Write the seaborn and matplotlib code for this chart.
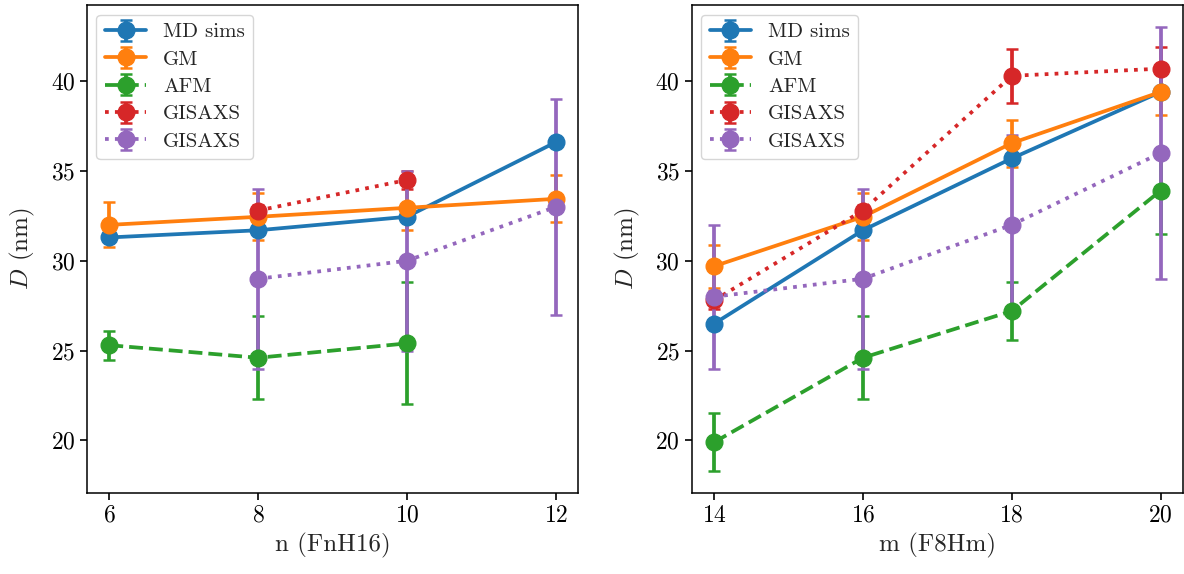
import numpy as np
import seaborn as sns
import matplotlib
matplotlib.use("Agg")
import matplotlib.pyplot as plt

# left panel: FnH16, n = 6..12
n = [6, 8, 10, 12]
md_n = [31.3, 31.7, 32.45, 36.6]
md_n_err = [0.2, 0.2, 0.2, 0.2]
gm_n = [32.0, 32.45, 32.95, 33.45]
gm_n_err = [1.25, 1.3, 1.25, 1.3]
afm_n = [25.3, 24.6, 25.4, np.nan]
afm_n_err = [0.8, 2.3, 3.4, np.nan]
gis1_n = [np.nan, 32.8, 34.5, np.nan]
gis1_n_err = [np.nan, 0.3, 0.5, np.nan]
gis2_n = [np.nan, 29.0, 30.0, 33.0]
gis2_n_err = [np.nan, 5.0, 5.0, 6.0]

# right panel: F8Hm, m = 14..20
m = [14, 16, 18, 20]
md_m = [26.5, 31.7, 35.7, 39.4]
md_m_err = [0.2, 0.2, 0.2, 0.2]
gm_m = [29.7, 32.45, 36.55, 39.4]
gm_m_err = [1.2, 1.3, 1.3, 1.3]
afm_m = [19.9, 24.6, 27.2, 33.9]
afm_m_err = [1.6, 2.3, 1.6, 2.4]
gis1_m = [27.8, 32.8, 40.3, 40.7]
gis1_m_err = [0.5, 0.3, 1.5, 1.2]
gis2_m = [28.0, 29.0, 32.0, 36.0]
gis2_m_err = [4.0, 5.0, 5.0, 7.0]

labels = ['MD sims', 'GM', 'AFM', 'GISAXS', 'GISAXS']
styles = ['-', '-', '--', ':', ':']

sns.set_theme(style="ticks", palette="tab10", rc={
    "axes.edgecolor": "black", "axes.linewidth": 1.1,
    "xtick.color": "black", "ytick.color": "black",
    "xtick.major.size": 5, "ytick.major.size": 5,
    "xtick.major.width": 1.2, "ytick.major.width": 1.2,
})
plt.rcParams['font.family'] = ['cmr10', 'DejaVu Serif']
plt.rcParams['mathtext.fontset'] = 'cm'
plt.rcParams['axes.formatter.use_mathtext'] = True
plt.rcParams['axes.unicode_minus'] = False

colors = sns.color_palette("tab10")

fig, (ax1, ax2) = plt.subplots(1, 2, figsize=(11.84, 5.74), dpi=100, sharey=True)
fig.subplots_adjust(left=0.0735, right=0.999, top=0.991, bottom=0.141, wspace=0.232)

def panel(ax, x, series):
    for i, (y, e) in enumerate(series):
        ax.errorbar(x, y, yerr=e, fmt='o', ls=styles[i], color=colors[i],
                    lw=2.7, ms=12, capsize=4, capthick=1.8, label=labels[i])
    ax.legend(loc='upper left', fontsize=15, framealpha=0.8,
              borderaxespad=0.45, labelspacing=0.42)
    ax.tick_params(labelsize=17)

panel(ax1, n, [(md_n, md_n_err), (gm_n, gm_n_err), (afm_n, afm_n_err),
               (gis1_n, gis1_n_err), (gis2_n, gis2_n_err)])
panel(ax2, m, [(md_m, md_m_err), (gm_m, gm_m_err), (afm_m, afm_m_err),
               (gis1_m, gis1_m_err), (gis2_m, gis2_m_err)])

ax1.set_xticks(n)
ax2.set_xticks(m)
ax1.set_yticks([20, 25, 30, 35, 40])
ax2.yaxis.set_tick_params(labelleft=True)
ax1.set_xlabel('n (FnH16)', fontsize=18)
ax2.set_xlabel('m (F8Hm)', fontsize=18)
ax1.set_ylabel('$D$ (nm)', fontsize=18, labelpad=10)
ax2.set_ylabel('$D$ (nm)', fontsize=18, labelpad=10)

fig.savefig('out.png', dpi=100)
